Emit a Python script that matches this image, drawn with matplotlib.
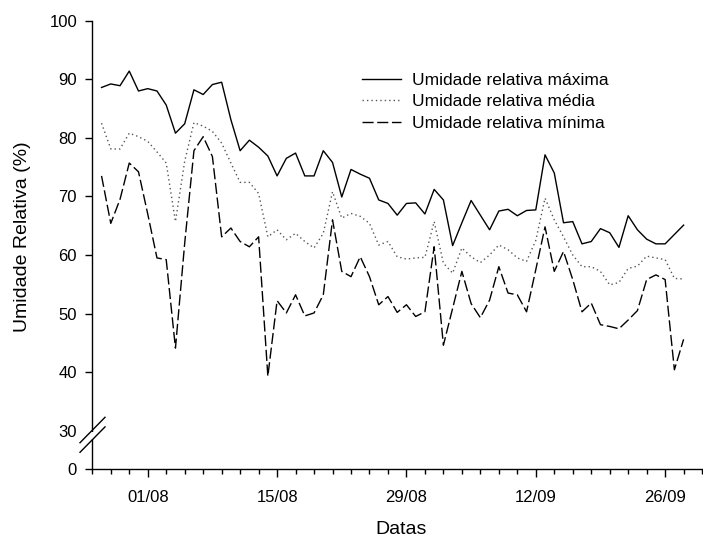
import numpy as np
import matplotlib
matplotlib.use("Agg")
import matplotlib.pyplot as plt
from matplotlib.lines import Line2D

plt.rcParams['font.family'] = ['Liberation Sans', 'DejaVu Sans']

# Daily series, day 0 = 27/07
maxima = [88.6, 89.2, 88.9, 91.4, 88.0, 88.4, 88.0, 85.6, 80.8, 82.4,
          88.2, 87.4, 89.1, 89.5, 83.1, 77.8, 79.6, 78.4, 76.9, 73.5,
          76.5, 77.4, 73.5, 73.5, 77.8, 75.8, 69.9, 74.6, 73.8, 73.1,
          69.4, 68.8, 66.8, 68.8, 68.9, 67.0, 71.2, 69.4, 61.6, 65.5,
          69.3, 66.8, 64.3, 67.5, 67.8, 66.7, 67.6, 67.7, 77.1, 74.0,
          65.5, 65.7, 61.9, 62.3, 64.5, 63.8, 61.3, 66.7, 64.3, 62.7,
          61.9, 61.9, 63.5, 65.1]
media = [82.5, 78.1, 78.1, 80.8, 80.2, 79.4, 77.6, 75.7, 65.7, 76.0,
         82.6, 82.0, 81.1, 79.1, 75.7, 72.4, 72.4, 70.5, 63.1, 64.3,
         62.6, 63.7, 62.3, 61.2, 63.7, 70.8, 66.3, 67.1, 66.6, 65.4,
         61.7, 62.3, 59.7, 59.3, 59.5, 59.6, 65.7, 58.6, 56.9, 61.2,
         59.7, 58.7, 60.0, 61.7, 60.9, 59.5, 58.9, 62.5, 69.7, 66.0,
         63.1, 60.0, 58.0, 58.0, 57.2, 54.9, 55.3, 57.7, 58.1, 59.8,
         59.5, 59.2, 56.0, 55.9]
minima = [73.5, 65.4, 69.5, 75.7, 74.2, 67.0, 59.5, 59.2, 44.1, 62.0,
          77.8, 80.2, 76.8, 63.1, 64.6, 62.3, 61.4, 63.1, 39.3, 52.2,
          50.1, 53.2, 49.6, 50.1, 53.2, 66.0, 57.2, 56.3, 59.7, 56.3,
          51.5, 52.9, 50.2, 51.5, 49.5, 50.3, 61.4, 44.6, 50.9, 57.2,
          51.7, 49.3, 52.3, 58.0, 53.5, 53.2, 50.3, 57.5, 64.8, 57.2,
          60.6, 55.8, 50.3, 51.8, 48.1, 47.8, 47.4, 48.9, 50.5, 55.8,
          56.6, 55.8, 40.4, 45.6]
dias = np.arange(len(maxima))

rotulos_series = ['Umidade relativa máxima', 'Umidade relativa média',
                  'Umidade relativa mínima']
datas_ticks = [5, 19, 33, 47, 61]
datas_labels = ['01/08', '15/08', '29/08', '12/09', '26/09']
y_ticks = [30, 40, 50, 60, 70, 80, 90, 100]

# compressed 0-30 segment below the axis break
Y_ZERO = 23.46

W, H = 703, 542
fig = plt.figure(figsize=(W / 100, H / 100), dpi=100)
ax = fig.add_axes([92.3 / W, 1 - 469 / H, (702.1 - 92.3) / W, (469 - 20.7) / H])

ax.plot(dias, maxima, color='black', lw=1.0, ls='-', label=rotulos_series[0])
ax.plot(dias, media, color='#555555', lw=1.0, ls=(0, (1, 2.2)), label=rotulos_series[1])
ax.plot(dias, minima, color='black', lw=1.0, ls=(0, (8, 2.6)), label=rotulos_series[2])

ax.set_xlim(-1, 65)
ax.set_ylim(Y_ZERO, 100)
for s in ('top', 'right'):
    ax.spines[s].set_visible(False)
ax.spines['left'].set_linewidth(1.0)
ax.spines['bottom'].set_linewidth(1.0)

ax.set_xticks(datas_ticks)
ax.set_xticklabels(datas_labels)
ax.set_xticks(np.arange(-1, 66, 2), minor=True)
ax.tick_params(axis='x', which='major', direction='out', length=6, width=1.0,
               labelsize=12, pad=9)
ax.tick_params(axis='x', which='minor', direction='out', length=3.5, width=1.0)

ax.set_yticks([Y_ZERO] + y_ticks)
ax.set_yticklabels(['0'] + [str(v) for v in y_ticks])
ax.tick_params(axis='y', which='major', direction='out', length=5, width=1.0,
               labelsize=12, pad=6)
ax.yaxis.get_major_ticks()[1].tick1line.set_visible(False)

# axis break marks on the y axis
def px(x, y):
    return x / W, 1 - y / H

gap = Line2D(*zip(px(92.3, 431.5), px(92.3, 438.5)), transform=fig.transFigure,
             color='white', lw=3, solid_capstyle='butt', zorder=5)
fig.add_artist(gap)
for y0 in (442.7, 452.3):
    (xa, ya), (xb, yb) = px(80, y0), px(105, y0 - 25.4)
    fig.add_artist(Line2D([xa, xb], [ya, yb], transform=fig.transFigure,
                          color='black', lw=1.0, zorder=6))

fig.text(23 / W, 1 - 237 / H, 'Umidade Relativa (%)', rotation=90,
         ha='center', va='center', fontsize=14)
fig.text(401 / W, 1 - 530 / H, 'Datas', ha='center', va='center', fontsize=14)

ax.legend(loc='upper left', bbox_to_anchor=px(361.7, 72.5), bbox_transform=fig.transFigure,
          frameon=False, fontsize=12.5, handlelength=2.25, handletextpad=0.64,
          labelspacing=0.38, borderpad=0, borderaxespad=0)

fig.savefig('out.png', dpi=100)
